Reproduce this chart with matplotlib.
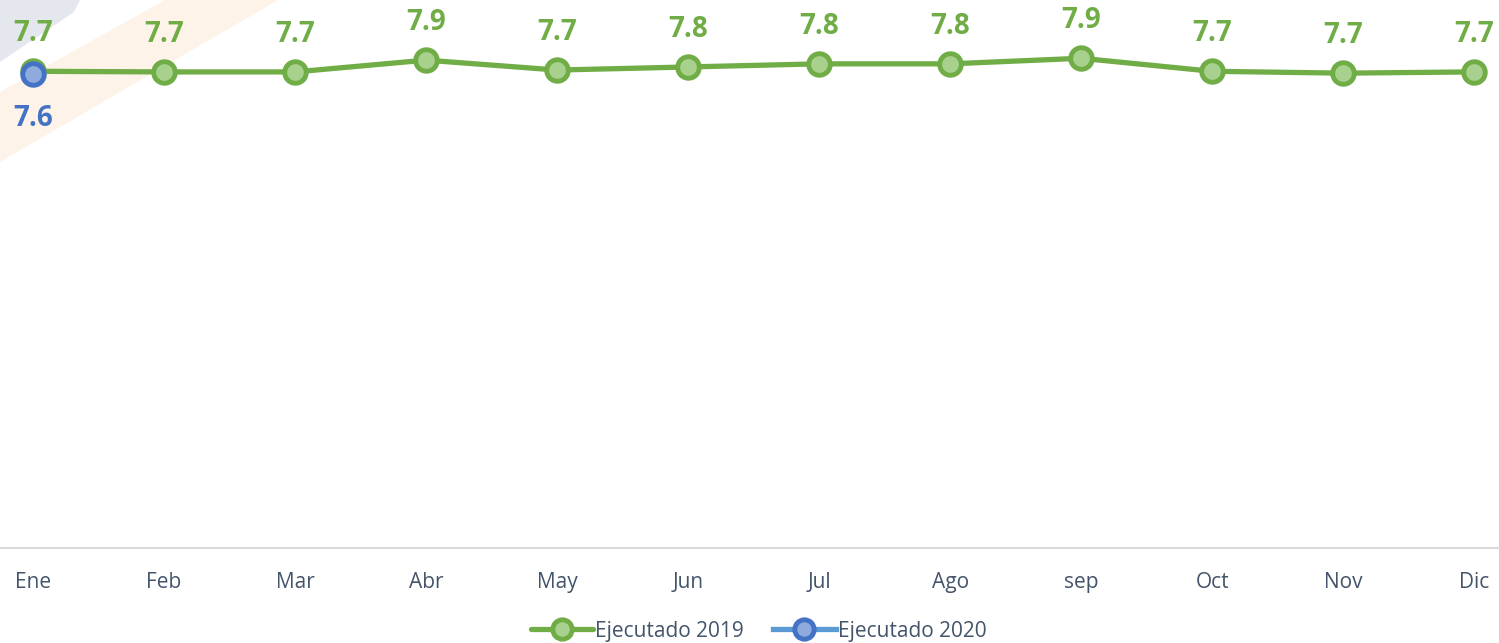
import matplotlib.pyplot as plt
from matplotlib.patches import Polygon

meses = ['Ene', 'Feb', 'Mar', 'Abr', 'May', 'Jun', 'Jul', 'Ago', 'sep', 'Oct', 'Nov', 'Dic']
ejec_2019 = [7.69, 7.68, 7.68, 7.87, 7.71, 7.76, 7.81, 7.81, 7.90, 7.69, 7.66, 7.68]
ejec_2020 = [7.64]

verde = '#70AD47'
verde_claro = '#A9D18E'
azul = '#4472C4'
azul_linea = '#5B9BD5'
azul_claro = '#8FAADC'
gris_txt = '#44546A'

plt.rcParams['font.family'] = ['Open Sans', 'DejaVu Sans']

fig = plt.figure(figsize=(14.99, 6.43), dpi=100)

# watermark shapes in the background (figure pixels, origin top-left)
W, H = 1499, 643
def px(pts):
    return [(x / W, 1 - y / H) for x, y in pts]
fig.patches.append(Polygon(px([(0, 0), (80, 0), (74, 12), (0, 62)]), closed=True,
                           transform=fig.transFigure, facecolor='#E4E7ED', zorder=-2))
fig.patches.append(Polygon(px([(165, 0), (278, 0), (0, 162), (0, 92)]), closed=True,
                           transform=fig.transFigure, facecolor='#FEF3E8', zorder=-2))

ax = fig.add_axes([0, 1 - 548 / 643, 1, 548 / 643])
ax.set_zorder(1)
ax.patch.set_alpha(0)

x = list(range(len(meses)))
ax.plot(x, ejec_2019, color=verde, lw=3.8, marker='o', ms=15.5, mfc=verde_claro,
        mec=verde, mew=3.5, label='Ejecutado 2019', zorder=3, solid_capstyle='round')
ax.plot(x[:len(ejec_2020)], ejec_2020, color=azul_linea, lw=3.8, marker='o', ms=15.5,
        mfc=azul_claro, mec=azul, mew=3.5, label='Ejecutado 2020', zorder=4)

for i, v in enumerate(ejec_2019):
    ax.annotate(f'{v:.1f}', (i, v), xytext=(0, 27), textcoords='offset points',
                ha='center', va='center', fontsize=20, fontweight='bold', color=verde)
for i, v in enumerate(ejec_2020):
    ax.annotate(f'{v:.1f}', (i, v), xytext=(0, -32), textcoords='offset points',
                ha='center', va='center', fontsize=20, fontweight='bold', color=azul)

ax.set_xlim(-0.252, 11.19)
ax.set_ylim(0, 8.84)
ax.set_yticks([])
ax.set_xticks(x)
ax.set_xticklabels(meses, fontsize=15, color=gris_txt)
ax.tick_params(axis='x', length=0, pad=17)
for s in ['top', 'left', 'right']:
    ax.spines[s].set_visible(False)
ax.spines['bottom'].set_color('#D9D9D9')
ax.spines['bottom'].set_linewidth(1.5)

leg = fig.legend(loc='center', bbox_to_anchor=(0.506, 1 - 631 / 643), ncol=2, frameon=False,
                 fontsize=15, handlelength=3.0, handletextpad=0.1, columnspacing=1.4,
                 markerscale=0.9)
for t in leg.get_texts():
    t.set_color(gris_txt)

fig.savefig('out.png', dpi=100)
